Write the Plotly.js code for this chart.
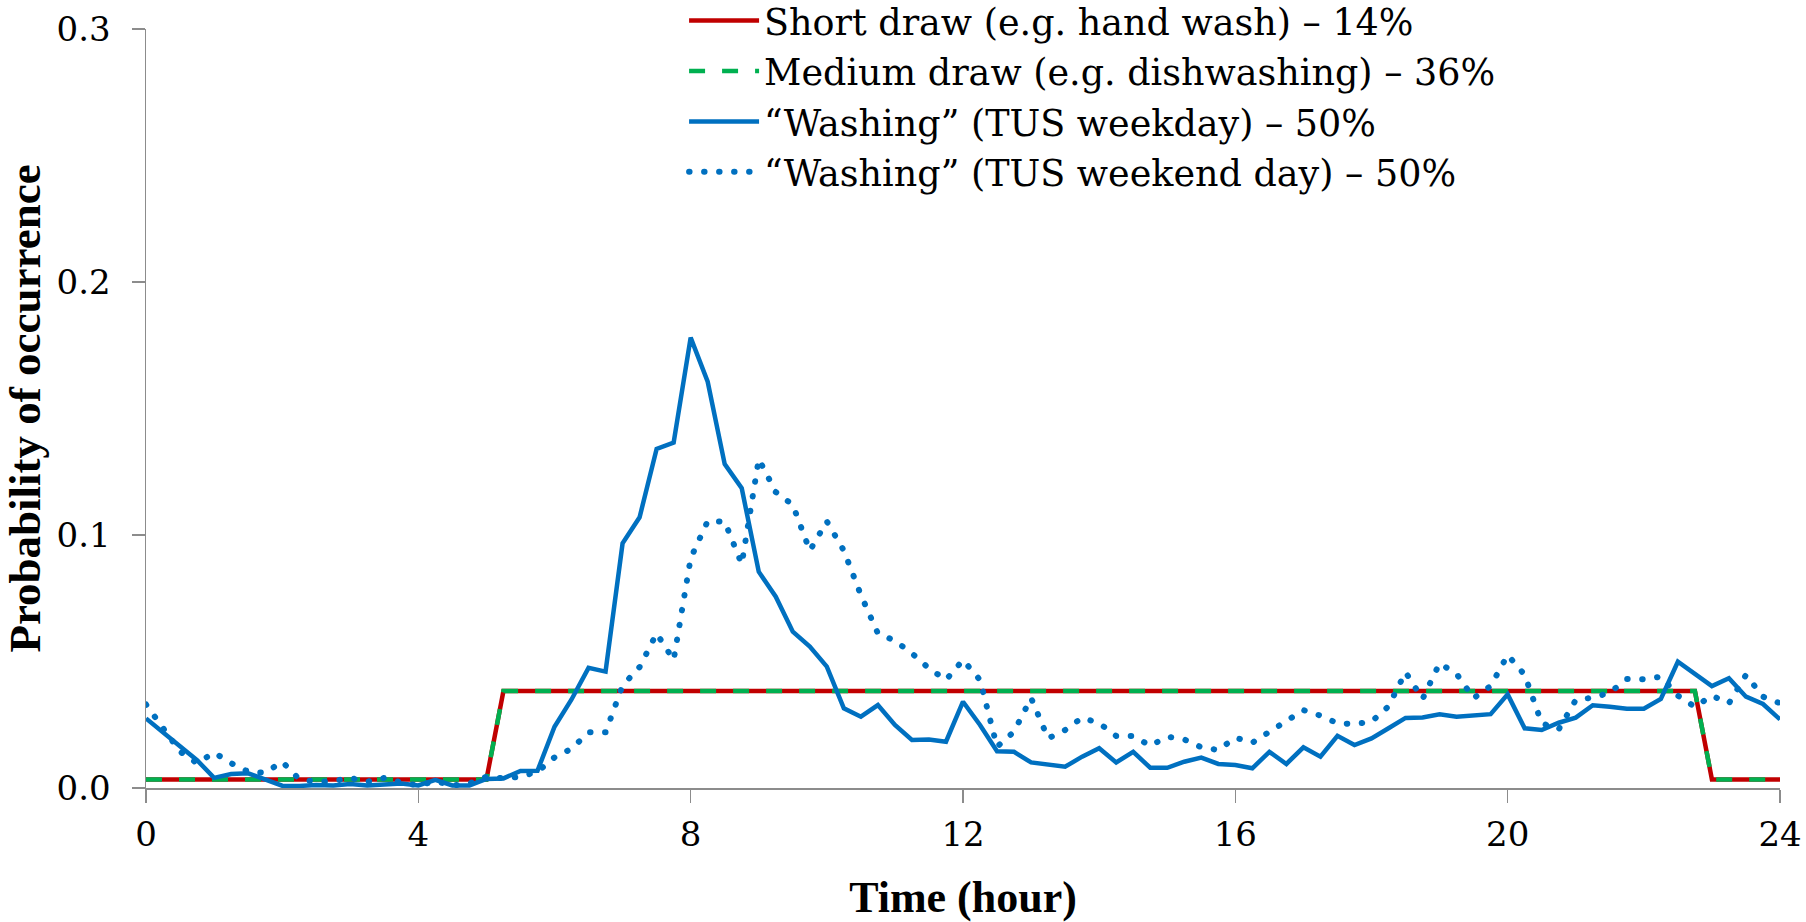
<!DOCTYPE html>
<html>
<head>
<meta charset="utf-8">
<script src="https://cdn.plot.ly/plotly-3.0.1.min.js"></script>
<style>
html,body{margin:0;padding:0;background:#ffffff;}
#chart{width:1806px;height:922px;}
.scatterlayer .trace:nth-of-type(4) path.js-line{stroke-linecap:round;}
.legend .traces:nth-of-type(4) path.js-line{stroke-linecap:round;}
</style>
</head>
<body>
<div id="chart"></div>
<script>
// ---- data ----
const seriesNames = [
  "Short draw (e.g. hand wash) \u2013 14%",
  "Medium draw (e.g. dishwashing) \u2013 36%",
  "\u201cWashing\u201d (TUS weekday) \u2013 50%",
  "\u201cWashing\u201d (TUS weekend day) \u2013 50%"
];

// corner points of the two draw profiles
const drawHours = [0, 5, 5.25, 22.75, 23, 24];
const shortDraw = [0.0034, 0.0034, 0.0383, 0.0383, 0.0034, 0.0034];
const mediumDraw = [0.0034, 0.0034, 0.0383, 0.0383, 0.0034, 0.0034];

// 15-minute time steps
const timeHours = [
  0, 0.25, 0.5, 0.75, 1, 1.25, 1.5, 1.75, 2, 2.25, 2.5, 2.75,
  3, 3.25, 3.5, 3.75, 4, 4.25, 4.5, 4.75, 5, 5.25, 5.5, 5.75,
  6, 6.25, 6.5, 6.75, 7, 7.25, 7.5, 7.75, 8, 8.25, 8.5, 8.75,
  9, 9.25, 9.5, 9.75, 10, 10.25, 10.5, 10.75, 11, 11.25, 11.5, 11.75,
  12, 12.25, 12.5, 12.75, 13, 13.25, 13.5, 13.75, 14, 14.25, 14.5, 14.75,
  15, 15.25, 15.5, 15.75, 16, 16.25, 16.5, 16.75, 17, 17.25, 17.5, 17.75,
  18, 18.25, 18.5, 18.75, 19, 19.25, 19.5, 19.75, 20, 20.25, 20.5, 20.75,
  21, 21.25, 21.5, 21.75, 22, 22.25, 22.5, 22.75, 23, 23.25, 23.5, 23.75,
  24
];

const washingWeekday = [
  0.0275, 0.022, 0.0165, 0.011,
  0.004, 0.0055, 0.0058, 0.0035,
  0.0009, 0.0008, 0.0012, 0.001,
  0.0016, 0.001, 0.0016, 0.0018,
  0.001, 0.0032, 0.001, 0.001,
  0.0036, 0.0038, 0.0067, 0.0068,
  0.0242, 0.035, 0.0475, 0.046,
  0.0967, 0.107, 0.134, 0.1365,
  0.178, 0.1606, 0.128, 0.1185,
  0.0855, 0.0756, 0.0618, 0.0559,
  0.048, 0.0315, 0.0282, 0.0328,
  0.0249, 0.019, 0.0192, 0.0183,
  0.0341, 0.0249, 0.0145, 0.0143,
  0.0101, 0.0094, 0.0084, 0.0124,
  0.0157, 0.0101, 0.0143, 0.008,
  0.008, 0.0104, 0.012, 0.0095,
  0.0091, 0.0078, 0.0143, 0.0095,
  0.0161, 0.0124, 0.0206, 0.017,
  0.0196, 0.0236, 0.0277, 0.0279,
  0.0291, 0.0282, 0.0286, 0.0292,
  0.037, 0.0236, 0.0229, 0.0258,
  0.0278, 0.0327, 0.0321, 0.0313,
  0.0313, 0.0352, 0.0499, 0.0451,
  0.0403, 0.0434, 0.0361, 0.0332,
  0.0271
];

const washingWeekend = [
  0.033, 0.0233, 0.0144, 0.0098,
  0.014, 0.0098, 0.0065, 0.006,
  0.0104, 0.0035, 0.0025, 0.0027,
  0.004, 0.0025, 0.004, 0.0022,
  0.001, 0.0027, 0.001, 0.0018,
  0.0045, 0.0038, 0.0045, 0.0064,
  0.0121, 0.0155, 0.022, 0.022,
  0.0405, 0.0478, 0.0611, 0.0506,
  0.0908, 0.1055, 0.1053, 0.0885,
  0.130, 0.117, 0.1119, 0.0938,
  0.1054, 0.0938, 0.0763, 0.0611,
  0.0582, 0.0532, 0.0473, 0.0427,
  0.0506, 0.0427, 0.0163, 0.0223,
  0.0356, 0.0196, 0.0229, 0.0278,
  0.0256, 0.0206, 0.0206, 0.0167,
  0.0203, 0.0192, 0.0161, 0.015,
  0.0199, 0.0179, 0.0223, 0.0266,
  0.0308, 0.0286, 0.0256, 0.0253,
  0.0262, 0.0323, 0.0458, 0.0352,
  0.0493, 0.0451, 0.0355, 0.0403,
  0.0526, 0.0447, 0.0256, 0.0232,
  0.0348, 0.0357, 0.0377, 0.0431,
  0.043, 0.044, 0.0365, 0.0321,
  0.0365, 0.0335, 0.0447, 0.0361,
  0.0335
];

const xTickValues = [0, 4, 8, 12, 16, 20, 24];
const yTickValues = [0, 0.1, 0.2, 0.3];
const xTitle = "Time (hour)";
const yTitle = "Probability of occurrence";

// ---- chart ----
const RED = "#C00000", GREEN = "#00B050", BLUE = "#0070C0", AXIS = "#8C8C8C";

const traces = [
  {x: drawHours, y: shortDraw, name: seriesNames[0], type: "scatter", mode: "lines",
   line: {color: RED, width: 4.5}},
  {x: drawHours, y: mediumDraw, name: seriesNames[1], type: "scatter", mode: "lines",
   line: {color: GREEN, width: 4.5, dash: "16px,17px"}},
  {x: timeHours, y: washingWeekday, name: seriesNames[2], type: "scatter", mode: "lines",
   line: {color: BLUE, width: 4.5}},
  {x: timeHours, y: washingWeekend, name: seriesNames[3], type: "scatter", mode: "lines",
   line: {color: BLUE, width: 6, dash: "0.5px,14.5px"}}
];

const tickFont = {family: "DejaVu Serif", size: 34, color: "#000000"};
const titleFont = {family: "Liberation Serif", size: 44, color: "#000000", weight: "bold"};

const layout = {
  width: 1806, height: 922,
  paper_bgcolor: "#ffffff", plot_bgcolor: "#ffffff",
  margin: {l: 146, r: 26, t: 29, b: 134, autoexpand: false},
  showlegend: true,
  legend: {
    x: 0.3293, xanchor: "left", y: 1.051, yanchor: "top",
    bgcolor: "rgba(0,0,0,0)", borderwidth: 0,
    font: {family: "DejaVu Serif", size: 36.5, color: "#000000"},
    itemwidth: 70, traceorder: "normal"
  },
  xaxis: {
    range: [0, 24], tickmode: "array", tickvals: xTickValues,
    showline: true, linecolor: AXIS, linewidth: 1.5,
    ticks: "outside", ticklen: 13, tickcolor: AXIS, tickwidth: 1.5,
    showgrid: false, zeroline: false, tickfont: tickFont,
    ticklabelstandoff: 3,
    title: {text: xTitle, font: titleFont, standoff: 29}
  },
  yaxis: {
    range: [0, 0.3], tickmode: "array", tickvals: yTickValues, tickformat: ".1f",
    showline: true, linecolor: AXIS, linewidth: 1.5,
    ticks: "outside", ticklen: 13, tickcolor: AXIS, tickwidth: 1.5,
    showgrid: false, zeroline: false, tickfont: tickFont,
    ticklabelstandoff: 14,
    title: {text: yTitle, font: {family: "Liberation Serif", size: 45, color: "#000000", weight: "bold"}, standoff: 10}
  }
};

function roundDots() {
  const t = document.querySelectorAll("#chart .scatterlayer .trace");
  if (t[3]) t[3].querySelectorAll("path.js-line").forEach(p => p.style.strokeLinecap = "round");
  const l = document.querySelectorAll("#chart .legend .traces");
  if (l[3]) l[3].querySelectorAll("path.js-line").forEach(p => p.style.strokeLinecap = "round");
}

Plotly.newPlot("chart", traces, layout, {staticPlot: true, displayModeBar: false}).then(roundDots);
</script>
</body>
</html>
